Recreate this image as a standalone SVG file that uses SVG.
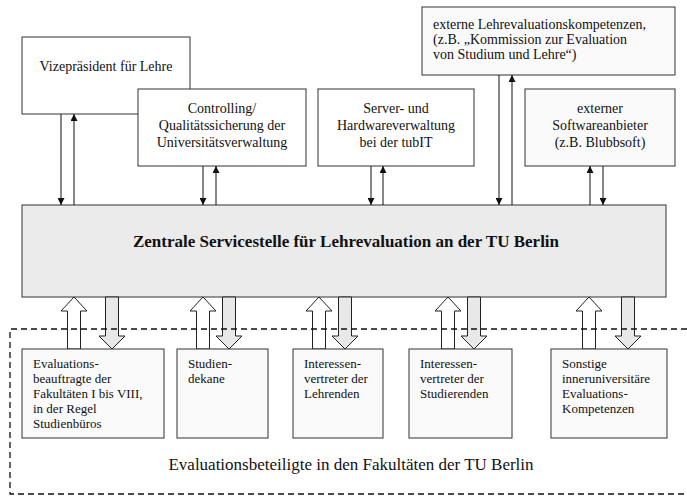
<svg xmlns="http://www.w3.org/2000/svg" width="687" height="496" viewBox="0 0 687 496">
<style>
.box{fill:#ffffff;stroke:#333;stroke-width:1}
.lbox{fill:#fafafa;stroke:#333;stroke-width:1}
.main{fill:#ebebeb;stroke:#333;stroke-width:1}
.t{font-family:"Liberation Serif","Times New Roman",serif;font-size:14px;fill:#111}
.c{text-anchor:middle}
.s{font-family:"Liberation Serif","Times New Roman",serif;font-size:13px;fill:#111}
.b{font-family:"Liberation Serif","Times New Roman",serif;font-size:17px;font-weight:bold;fill:#111;text-anchor:middle}
.big{font-family:"Liberation Serif","Times New Roman",serif;font-size:17px;fill:#111;text-anchor:middle}
.ln{stroke:#111;stroke-width:1;fill:none}
.up{fill:#ffffff;stroke:#222;stroke-width:1}
.dn{fill:#e8e8e8;stroke:#222;stroke-width:1}
.dash{fill:none;stroke:#111;stroke-width:1.3;stroke-dasharray:6 4}
</style>
<defs>
<marker id="ah" markerUnits="userSpaceOnUse" viewBox="0 0 10 10" markerWidth="8" markerHeight="7" refX="10" refY="5" orient="auto">
<path d="M0,0 L10,5 L0,10 z" fill="#111"/>
</marker>
</defs>

<g id="vize"><rect class="box" x="22" y="37" width="168" height="77"/>
<text class="t c" x="106" y="71">Vizepräsident für Lehre</text></g>

<g id="controlling"><rect class="box" x="138" y="89" width="168" height="77"/>
<text class="t c" x="222" y="113">Controlling/</text>
<text class="t c" x="222" y="130">Qualitätssicherung der</text>
<text class="t c" x="222" y="147">Universitätsverwaltung</text></g>

<g id="server"><rect class="box" x="318" y="89" width="156" height="77"/>
<text class="t c" x="396" y="113">Server- und</text>
<text class="t c" x="396" y="130">Hardwareverwaltung</text>
<text class="t c" x="396" y="147">bei der tubIT</text></g>

<g id="externe"><rect class="lbox" x="422" y="7" width="253" height="68"/>
<text class="t" x="433" y="29">externe Lehrevaluationskompetenzen,</text>
<text class="t" x="433" y="44">(z.B. „Kommission zur Evaluation</text>
<text class="t" x="433" y="59">von Studium und Lehre“)</text></g>

<g id="software"><rect class="lbox" x="525" y="89" width="150" height="77"/>
<text class="t c" x="600" y="113">externer</text>
<text class="t c" x="600" y="130">Softwareanbieter</text>
<text class="t c" x="600" y="147">(z.B. Blubbsoft)</text></g>

<g id="zentrale"><rect class="main" x="22" y="205" width="644" height="92"/>
<text class="b" x="346" y="247">Zentrale Servicestelle für Lehrevaluation an der TU Berlin</text></g>

<g id="connectors">
<line class="ln" x1="61" y1="114" x2="61" y2="205" marker-end="url(#ah)"/>
<line class="ln" x1="74" y1="205" x2="74" y2="114" marker-end="url(#ah)"/>
<line class="ln" x1="203" y1="166" x2="203" y2="205" marker-end="url(#ah)"/>
<line class="ln" x1="216" y1="205" x2="216" y2="166" marker-end="url(#ah)"/>
<line class="ln" x1="371" y1="166" x2="371" y2="205" marker-end="url(#ah)"/>
<line class="ln" x1="383" y1="205" x2="383" y2="166" marker-end="url(#ah)"/>
<line class="ln" x1="499" y1="75" x2="499" y2="205" marker-end="url(#ah)"/>
<line class="ln" x1="512" y1="205" x2="512" y2="75" marker-end="url(#ah)"/>
<line class="ln" x1="590" y1="205" x2="590" y2="166" marker-end="url(#ah)"/>
<line class="ln" x1="603" y1="166" x2="603" y2="205" marker-end="url(#ah)"/>

<path class="up" d="M74,297 L87,311 L80.5,311 L80.5,349 L67.5,349 L67.5,311 L61,311 Z"/>
<path class="dn" d="M105.5,297 L118.5,297 L118.5,336 L125,336 L112,349 L99,336 L105.5,336 Z"/>
<path class="up" d="M203,297 L216,311 L209.5,311 L209.5,349 L196.5,349 L196.5,311 L190,311 Z"/>
<path class="dn" d="M222.5,297 L235.5,297 L235.5,336 L242,336 L229,349 L216,336 L222.5,336 Z"/>
<path class="up" d="M319,297 L332,311 L325.5,311 L325.5,349 L312.5,349 L312.5,311 L306,311 Z"/>
<path class="dn" d="M338.5,297 L351.5,297 L351.5,336 L358,336 L345,349 L332,336 L338.5,336 Z"/>
<path class="up" d="M448,297 L461,311 L454.5,311 L454.5,349 L441.5,349 L441.5,311 L435,311 Z"/>
<path class="dn" d="M467.5,297 L480.5,297 L480.5,336 L487,336 L474,349 L461,336 L467.5,336 Z"/>
<path class="up" d="M589,297 L602,311 L595.5,311 L595.5,349 L582.5,349 L582.5,311 L576,311 Z"/>
<path class="dn" d="M621.5,297 L634.5,297 L634.5,336 L641,336 L628,349 L615,336 L621.5,336 Z"/>
</g>

<g id="fakultaeten">
<path class="dash" d="M687,329 L10,329 L10,494 L687,494"/>
<text class="big" x="351" y="470">Evaluationsbeteiligte in den Fakultäten der TU Berlin</text>
</g>

<g id="evalbeauftragte"><rect class="lbox" x="22" y="349" width="142" height="89"/>
<text class="s" x="33" y="368">Evaluations-</text>
<text class="s" x="33" y="383">beauftragte der</text>
<text class="s" x="33" y="398">Fakultäten I bis VIII,</text>
<text class="s" x="33" y="413">in der Regel</text>
<text class="s" x="33" y="428">Studienbüros</text></g>

<g id="studiendekane"><rect class="lbox" x="177" y="349" width="91" height="89"/>
<text class="s" x="188" y="368">Studien-</text>
<text class="s" x="188" y="383">dekane</text></g>

<g id="lehrende"><rect class="lbox" x="293" y="349" width="90" height="89"/>
<text class="s" x="304" y="368">Interessen-</text>
<text class="s" x="304" y="383">vertreter der</text>
<text class="s" x="304" y="398">Lehrenden</text></g>

<g id="studierende"><rect class="lbox" x="409" y="349" width="103" height="89"/>
<text class="s" x="420" y="368">Interessen-</text>
<text class="s" x="420" y="383">vertreter der</text>
<text class="s" x="420" y="398">Studierenden</text></g>

<g id="sonstige"><rect class="lbox" x="551" y="349" width="116" height="89"/>
<text class="s" x="562" y="368">Sonstige</text>
<text class="s" x="562" y="383">inneruniversitäre</text>
<text class="s" x="562" y="398">Evaluations-</text>
<text class="s" x="562" y="413">Kompetenzen</text></g>
</svg>
